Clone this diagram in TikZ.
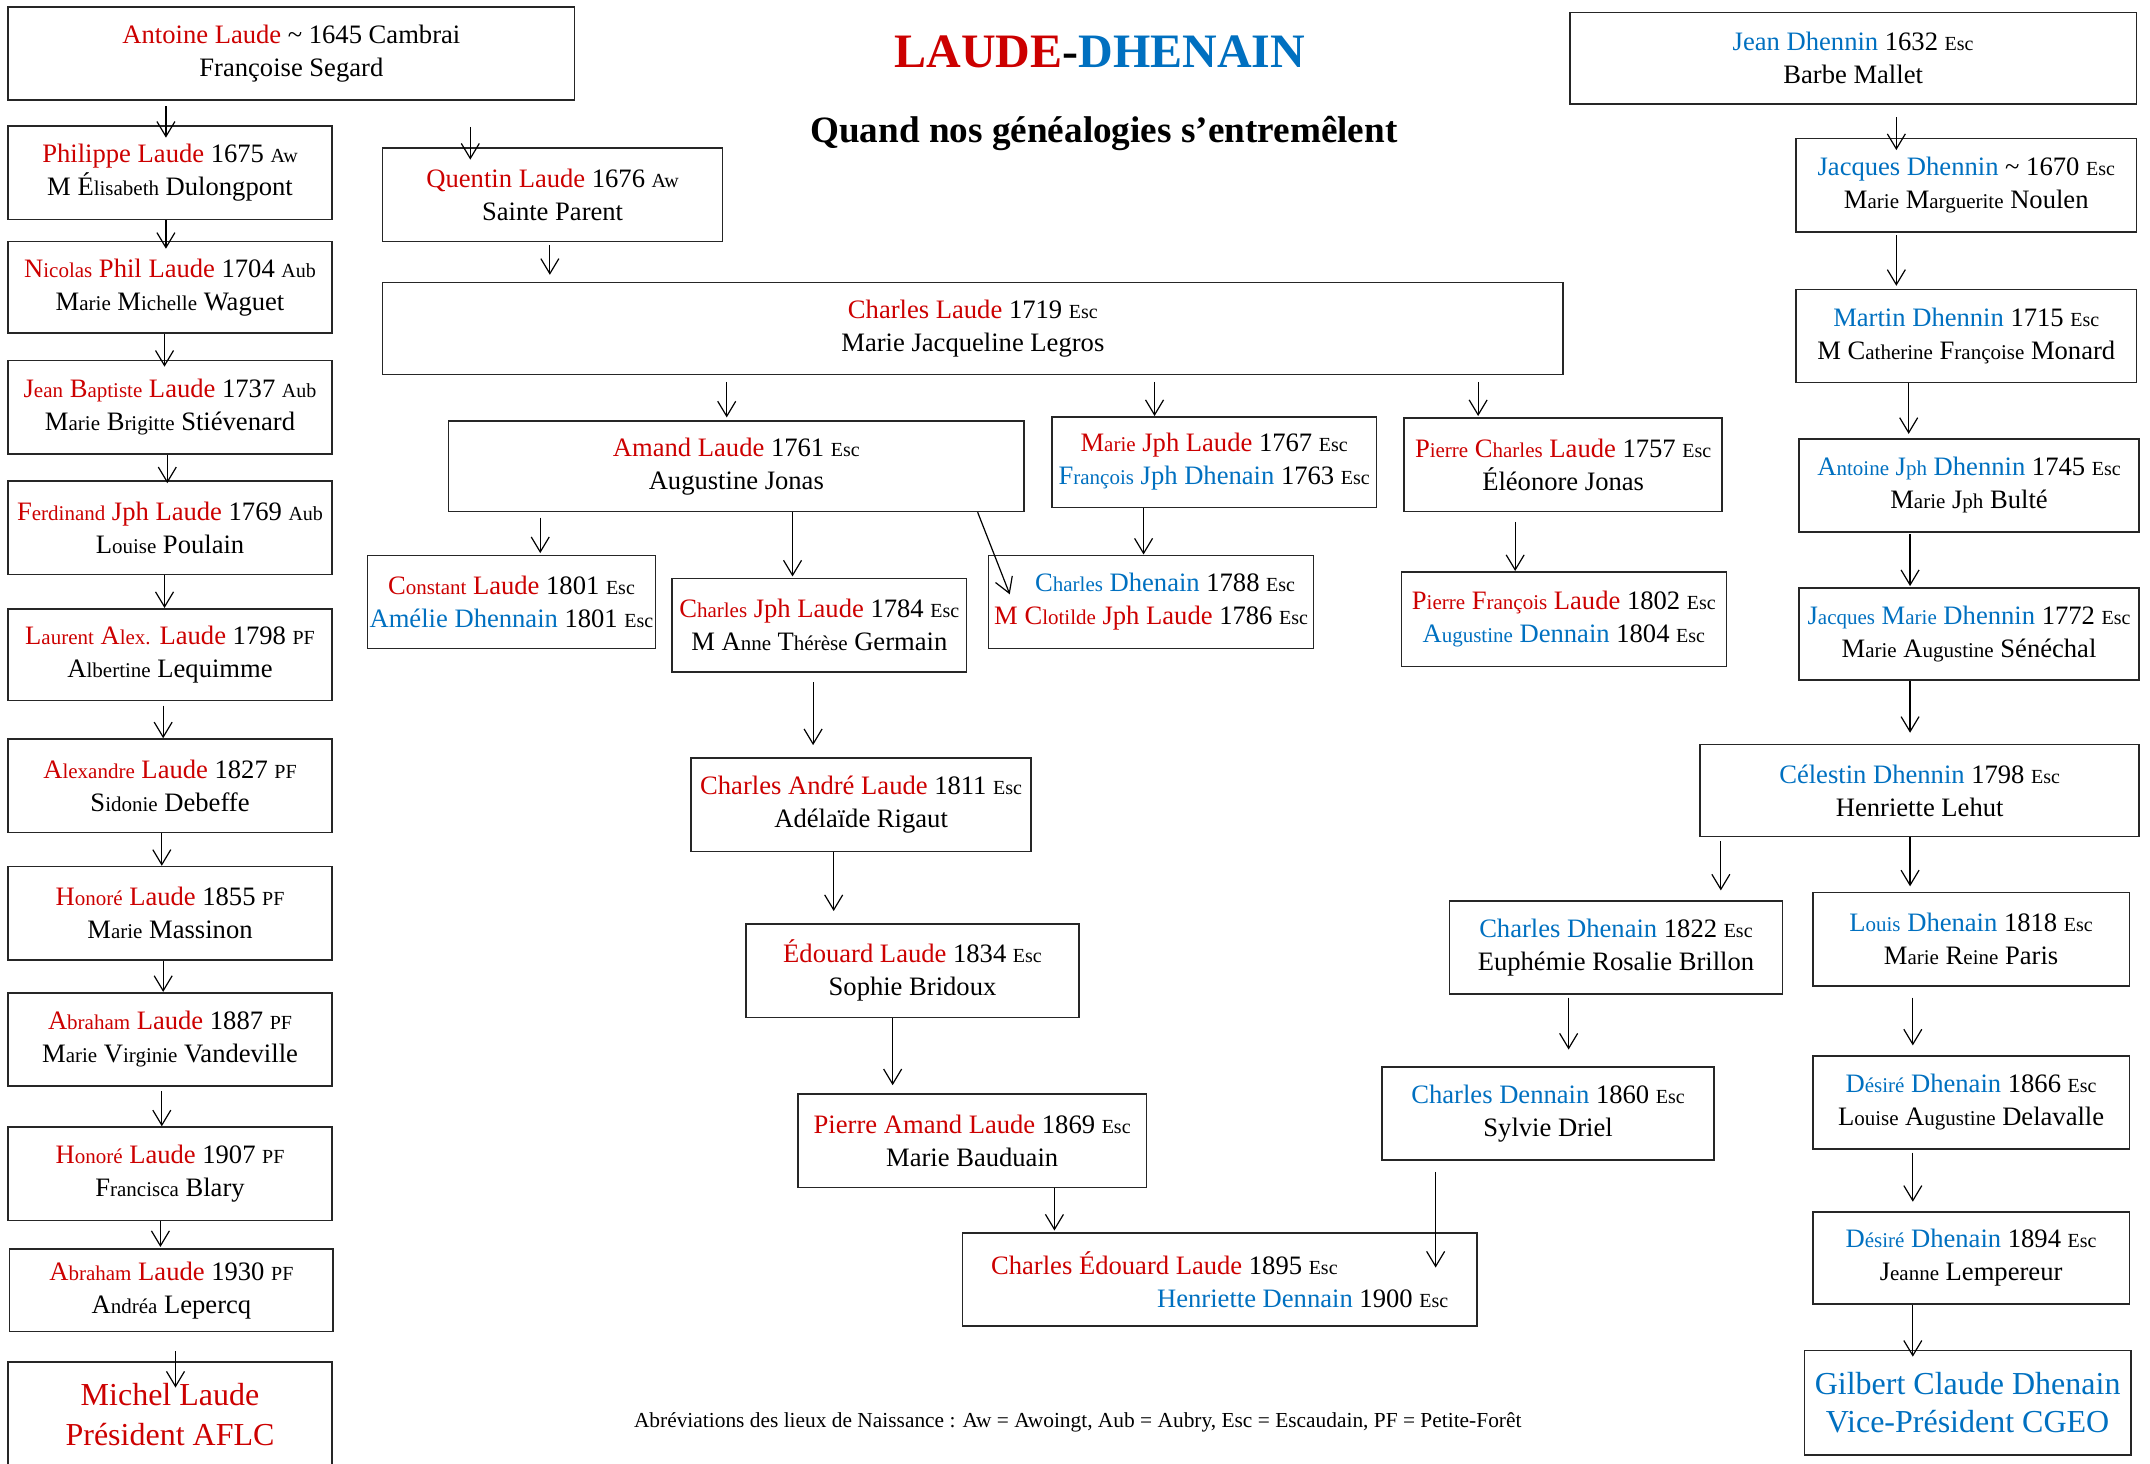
\documentclass[tikz,border=0pt]{standalone}
\usepackage{fontspec}
\setmainfont{Liberation Serif}
\usepackage{xcolor}
\definecolor{laude}{RGB}{204,0,0}
\definecolor{dhenain}{RGB}{0,112,192}
\usepackage{tikz}
\usetikzlibrary{arrows.meta}

\newcommand{\rg}[1]{\textcolor{laude}{#1}}
\newcommand{\bl}[1]{\textcolor{dhenain}{#1}}
\newcommand{\pn}[1]{{\fontsize{10.5}{12}\selectfont #1}}
\newcommand{\lieu}[1]{{\fontsize{10}{12}\selectfont #1}}
% box from its corners: name, left, top, right, bottom, text
\newcommand{\boite}[6]{%
  \pgfmathsetmacro{\largeur}{(#4-#2)*0.6856}%
  \pgfmathsetmacro{\hauteur}{(#5-#3)*0.6856}%
  \node[boite, minimum width=\largeur pt, minimum height=\hauteur pt] (#1) at ({(#2+#4)/2},{(#3+#5)/2}) {#6};%
}

\begin{document}
\begin{tikzpicture}[x=0.6856pt, y=-0.6856pt,
  boite/.style={draw=black!85, line width=0.8pt, align=center, inner sep=0pt, font=\fontsize{13.3}{16.5}\selectfont},
  fleche/.style={-{Straight Barb[length=7.5pt,width=9pt]}, line width=0.6pt}]

\useasboundingbox (0,0) rectangle (1568,1067);

% Title
\node (titre) at (802,38) {\fontsize{24}{28}\selectfont\bfseries \textcolor{laude}{LAUDE}-\textcolor{dhenain}{DHENAIN}};
\node (soustitre) at (805,97) {\fontsize{18.6}{22}\selectfont\bfseries Quand nos généalogies s'entremêlent};

% Laude line, left column
\boite{L0}{6}{5}{419}{73}{\rg{Antoine Laude} \textasciitilde{} 1645 Cambrai\\Françoise Segard}
\boite{L1}{6}{92}{242}{160}{\rg{Philippe Laude} 1675 \lieu{Aw}\\M É\pn{lisabeth} Dulongpont}
\boite{L2}{6}{176}{242}{243}{\rg{N\pn{icolas} Phil Laude} 1704 \lieu{Aub}\\M\pn{arie} M\pn{ichelle} Waguet}
\boite{L3}{6}{263}{242}{331}{\rg{J\pn{ean} B\pn{aptiste} Laude} 1737 \lieu{Aub}\\M\pn{arie} B\pn{rigitte} Stiévenard}
\boite{L4}{6}{351}{242}{419}{\rg{F\pn{erdinand} Jph Laude} 1769 \lieu{Aub}\\L\pn{ouise} Poulain}
\boite{L5}{6}{444}{242}{511}{\rg{L\pn{aurent} A\pn{lex.} Laude} 1798 \lieu{PF}\\A\pn{lbertine} Lequimme}
\boite{L6}{6}{539}{242}{607}{\rg{A\pn{lexandre} Laude} 1827 \lieu{PF}\\S\pn{idonie} Debeffe}
\boite{L7}{6}{632}{242}{700}{\rg{H\pn{onoré} Laude} 1855 \lieu{PF}\\M\pn{arie} Massinon}
\boite{L8}{6}{724}{242}{792}{\rg{A\pn{braham} Laude} 1887 \lieu{PF}\\M\pn{arie} V\pn{irginie} Vandeville}
\boite{L9}{6}{822}{242}{890}{\rg{H\pn{onoré} Laude} 1907 \lieu{PF}\\F\pn{rancisca} Blary}
\boite{L10}{7}{911}{243}{971}{\rg{A\pn{braham} Laude} 1930 \lieu{PF}\\A\pn{ndréa} Lepercq}

% Laude branches, middle
\boite{Q}{279}{108}{527}{176}{\rg{Quentin Laude} 1676 \lieu{Aw}\\Sainte Parent}
\boite{C}{279}{206}{1140}{273}{\rg{Charles Laude} 1719 \lieu{Esc}\\Marie Jacqueline Legros}
\boite{Amand}{327}{307}{747}{373}{\rg{Amand Laude} 1761 \lieu{Esc}\\Augustine Jonas}
\boite{MJ}{767}{304}{1004}{370}{\rg{M\pn{arie} Jph Laude} 1767 \lieu{Esc}\\\bl{F\pn{rançois} Jph Dhenain} 1763 \lieu{Esc}}
\boite{PC}{1024}{305}{1256}{373}{\rg{P\pn{ierre} C\pn{harles} Laude} 1757 \lieu{Esc}\\Éléonore Jonas}
\boite{Const}{268}{405}{478}{473}{\rg{C\pn{onstant} Laude} 1801 \lieu{Esc}\\\bl{Amélie Dhennain} 1801 \lieu{Esc}}
\boite{CJ}{490}{422}{705}{490}{\rg{C\pn{harles} Jph Laude} 1784 \lieu{Esc}\\M A\pn{nne} T\pn{hérèse} Germain}
\boite{CDh}{721}{405}{958}{473}{\hspace*{14pt}\bl{C\pn{harles} Dhenain} 1788 \lieu{Esc}\\\rg{M C\pn{lotilde} Jph Laude} 1786 \lieu{Esc}}
\boite{PF}{1022}{417}{1259}{486}{\rg{P\pn{ierre} F\pn{rançois} Laude} 1802 \lieu{Esc}\\\bl{A\pn{ugustine} Dennain} 1804 \lieu{Esc}}
\boite{CA}{504}{553}{752}{621}{\rg{Charles André Laude} 1811 \lieu{Esc}\\Adélaïde Rigaut}
\boite{Ed}{544}{674}{787}{742}{\rg{Édouard Laude} 1834 \lieu{Esc}\\Sophie Bridoux}
\boite{PA}{582}{798}{836}{866}{\rg{Pierre Amand Laude} 1869 \lieu{Esc}\\Marie Bauduain}
\node[boite, align=left, minimum width=257.1pt, minimum height=46.6pt] (CE) at (889.5,933) {\rg{Charles Édouard Laude} 1895 \lieu{Esc}\\\hspace*{83pt}\bl{Henriette Dennain} 1900 \lieu{Esc}};

% Dhenain line, right column
\boite{JD}{1145}{9}{1558}{76}{\bl{Jean Dhennin} 1632 \lieu{Esc}\\Barbe Mallet}
\boite{JaD}{1310}{101}{1558}{169}{\bl{Jacques Dhennin} \textasciitilde{} 1670 \lieu{Esc}\\M\pn{arie} M\pn{arguerite} Noulen}
\boite{MaD}{1310}{211}{1558}{279}{\bl{Martin Dhennin} 1715 \lieu{Esc}\\M C\pn{atherine} F\pn{rançoise} Monard}
\boite{AJD}{1312}{320}{1560}{388}{\bl{A\pn{ntoine} J\pn{ph} Dhennin} 1745 \lieu{Esc}\\M\pn{arie} J\pn{ph} Bulté}
\boite{JMD}{1312}{429}{1560}{496}{\bl{J\pn{acques} M\pn{arie} Dhennin} 1772 \lieu{Esc}\\M\pn{arie} A\pn{ugustine} Sénéchal}
\boite{CeD}{1240}{543}{1560}{610}{\bl{Célestin Dhennin} 1798 \lieu{Esc}\\Henriette Lehut}
\boite{CD22}{1057}{657}{1300}{725}{\bl{Charles Dhenain} 1822 \lieu{Esc}\\Euphémie Rosalie Brillon}
\boite{LoD}{1322}{651}{1553}{719}{\bl{L\pn{ouis} Dhenain} 1818 \lieu{Esc}\\M\pn{arie} R\pn{eine} Paris}
\boite{CDn}{1008}{778}{1250}{846}{\bl{Charles Dennain} 1860 \lieu{Esc}\\Sylvie Driel}
\boite{DD66}{1322}{770}{1553}{838}{\bl{D\pn{ésiré} Dhenain} 1866 \lieu{Esc}\\L\pn{ouise} A\pn{ugustine} Delavalle}
\boite{DD94}{1322}{884}{1553}{951}{\bl{D\pn{ésiré} Dhenain} 1894 \lieu{Esc}\\J\pn{eanne} Lempereur}

% The two of today
\node[boite, font=\fontsize{16}{20}\selectfont, text=laude, minimum width=161.8pt, minimum height=52.1pt] (L11) at (124,1031.5) {Michel Laude\\Président AFLC};
\node[boite, font=\fontsize{16}{19.2}\selectfont, text=dhenain, minimum width=163.2pt, minimum height=52.1pt] (GCD) at (1435,1023) {Gilbert Claude Dhenain\\Vice-Président CGEO};

% Arrows: from / to / x / gap at start / stop short at end
\foreach \de/\vers/\x/\ga/\dep in {
  L0/L1/121/4/-9, L1/L2/121/0/-6, L2/L3/120/0/-5, L3/L4/122/0/-2, L4/L5/120/0/0,
  L5/L6/119/3/0, L6/L7/118/0/0, L7/L8/119/0/0, L8/L9/118/3/0, L9/L10/117/0/1,
  L10/L11/128/14/-19, L0/Q/343/19/-9, Q/C/401/2/5, C/Amand/530/5/2, C/MJ/842/5/0,
  C/PC/1078/5/1, Amand/Const/394/4/1, Amand/CJ/578/0/1, MJ/CDh/834/0/0, PC/PF/1105/7/0,
  CJ/CA/593/7/9, CA/Ed/608/0/9, Ed/PA/651/0/6, PA/CE/769/0/1, CDn/CE/1047/8/-26,
  JD/JaD/1383/9/-9, JaD/MaD/1383/2/2, MaD/AJD/1392/0/3, AJD/JMD/1393/1/1, JMD/CeD/1393/0/8,
  CeD/CD22/1255/3/7, CeD/LoD/1393/0/4, CD22/CDn/1144/2/12, LoD/DD66/1395/8/7,
  DD66/DD94/1395/2/7, DD94/GCD/1395/0/-5
}{
  \draw[fleche, shorten <=\ga*0.6856pt, shorten >=\dep*0.6856pt] (\de.south -| \x,0) -- (\vers.north -| \x,0);
}
\draw[fleche] (Amand.south -| 713,0) -- ([shift={(16,29)}]CDh.north west);

% Footnote
\node (abrev) at (786,1037) {\fontsize{10.7}{12}\selectfont Abréviations des lieux de Naissance : Aw = Awoingt, Aub = Aubry, Esc = Escaudain, PF = Petite-Forêt};

\end{tikzpicture}
\end{document}
